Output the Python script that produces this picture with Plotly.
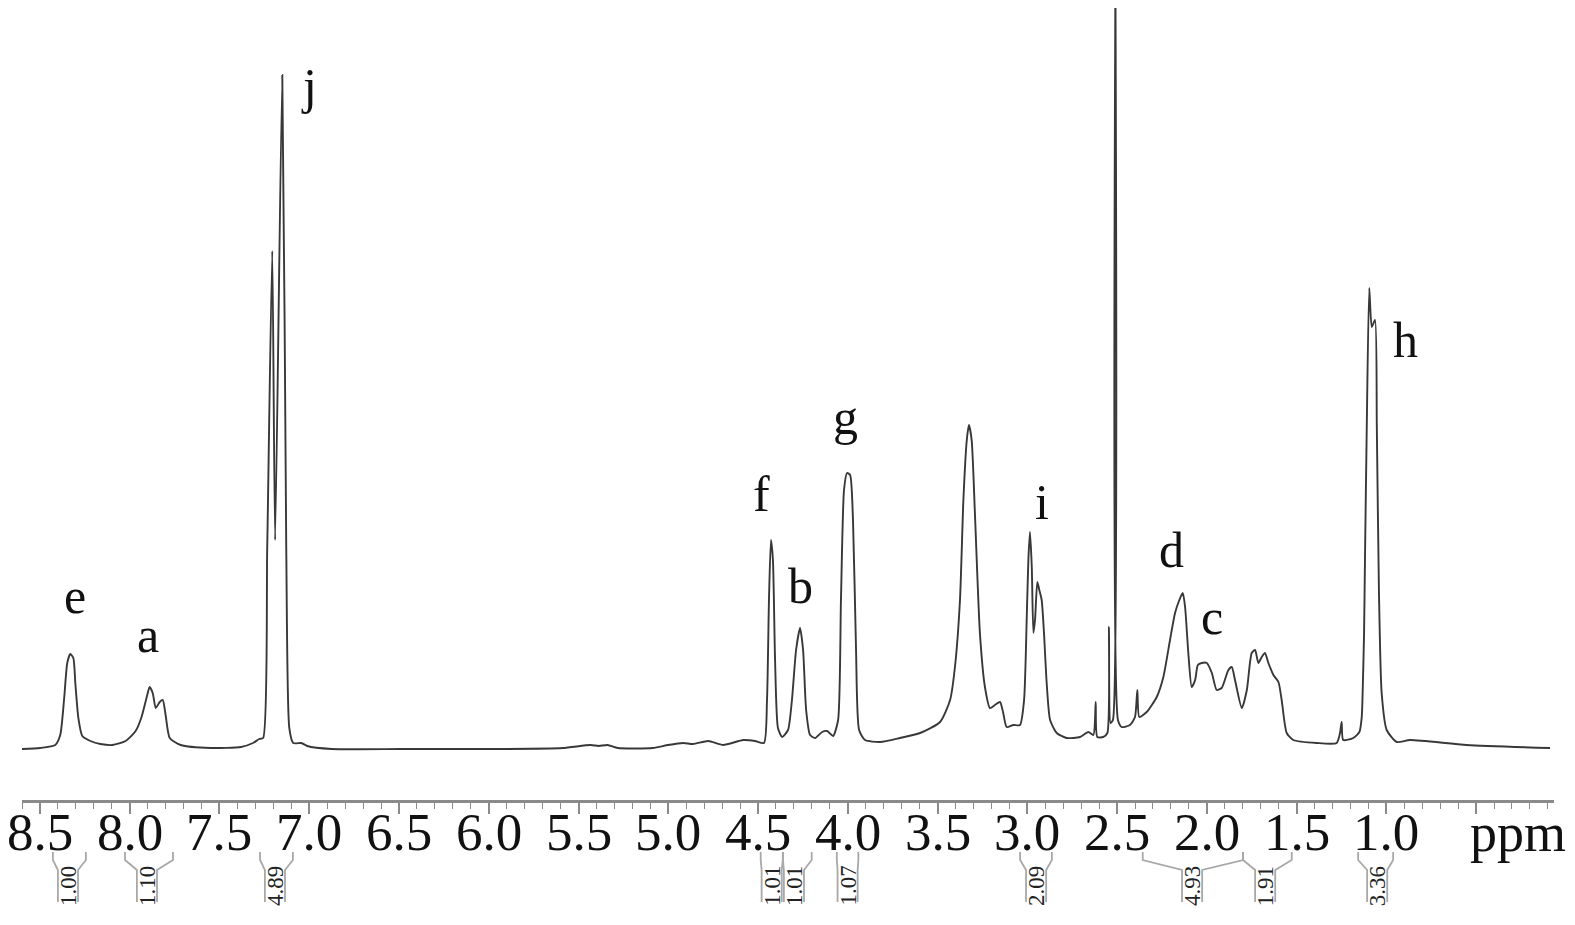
import plotly.graph_objects as go

# ---------------- data ----------------
ppm = [8.611, 8.499, 8.415, 8.387, 8.365, 8.348, 8.331, 8.314, 8.303, 8.286, 8.264, 8.219,
       8.163, 8.096, 8.023, 7.967, 7.934, 7.905, 7.889, 7.872, 7.855, 7.833, 7.816, 7.800,
       7.777, 7.716, 7.548, 7.380, 7.313, 7.279, 7.257, 7.234, 7.206, 7.190, 7.150, 7.128,
       7.111, 7.089, 7.044, 7.011, 6.876, 6.484, 6.205, 5.925, 5.589, 5.433, 5.388, 5.338,
       5.281, 5.086, 5.001, 4.917, 4.862, 4.777, 4.694, 4.582, 4.517, 4.467, 4.450, 4.439,
       4.428, 4.417, 4.405, 4.389, 4.366, 4.333, 4.311, 4.288, 4.266, 4.249, 4.232, 4.210,
       4.182, 4.143, 4.115, 4.082, 4.054, 4.038, 4.021, 4.004, 3.987, 3.971, 3.954, 3.937,
       3.904, 3.820, 3.709, 3.597, 3.486, 3.430, 3.403, 3.375, 3.356, 3.337, 3.325, 3.310,
       3.291, 3.264, 3.236, 3.208, 3.180, 3.152, 3.134, 3.115, 3.078, 3.041, 3.018, 3.003,
       2.994, 2.985, 2.975, 2.966, 2.957, 2.944, 2.933, 2.920, 2.907, 2.892, 2.873, 2.836,
       2.781, 2.706, 2.660, 2.632, 2.619, 2.610, 2.577, 2.554, 2.545, 2.536, 2.523, 2.509,
       2.495, 2.474, 2.428, 2.400, 2.387, 2.376, 2.335, 2.279, 2.242, 2.205, 2.177, 2.153,
       2.134, 2.121, 2.103, 2.084, 2.065, 2.050, 2.028, 2.000, 1.972, 1.945, 1.917, 1.880,
       1.861, 1.843, 1.805, 1.777, 1.750, 1.731, 1.713, 1.694, 1.676, 1.657, 1.629, 1.601,
       1.583, 1.555, 1.518, 1.388, 1.277, 1.258, 1.249, 1.240, 1.184, 1.150, 1.137, 1.132,
       1.124, 1.119, 1.109, 1.095, 1.081, 1.063, 1.053, 1.041, 1.026, 0.998, 0.942, 0.868,
       0.552, 0.088]

intensity = [-1, 0, 3, 13, 50, 85, 94, 90, 65, 30, 12, 7,
             4, 3, 7, 17, 31, 51, 61, 55, 40, 46, 48, 33,
             10, 3, 0, 1, 5, 9, 10, 200, 497, 208, 673, 200,
             20, 5, 5, 2, -1, -1, -1, -1, 0, 3, 2, 3,
             0, 0, 3, 5, 4, 7, 3, 8, 7, 5, 48, 148,
             208, 188, 88, 20, 11, 18, 48, 98, 120, 98, 38, 13,
             10, 16, 17, 12, 28, 148, 258, 275, 273, 228, 98, 18,
             8, 6, 10, 15, 26, 48, 81, 148, 248, 308, 323, 308,
             231, 115, 61, 40, 43, 46, 35, 21, 23, 23, 48, 131,
             188, 216, 181, 115, 128, 166, 158, 148, 115, 65, 28, 15,
             10, 11, 16, 13, 46, 11, 11, 15, 121, 25, 28, 800,
             28, 21, 23, 31, 58, 31, 36, 51, 71, 108, 135, 148,
             155, 141, 95, 61, 68, 83, 85, 85, 75, 58, 60, 78,
             81, 68, 40, 58, 95, 98, 85, 91, 95, 85, 73, 66,
             48, 15, 8, 5, 5, 15, 26, 8, 10, 16, 31, 55,
             115, 188, 321, 460, 421, 428, 321, 155, 55, 18, 6, 8,
             3, 0]

tick_vals = [8.5, 8.0, 7.5, 7.0, 6.5, 6.0, 5.5, 5.0, 4.5, 4.0, 3.5, 3.0, 2.5, 2.0, 1.5, 1.0, 0.5]
tick_text = ["8.5", "8.0", "7.5", "7.0", "6.5", "6.0", "5.5", "5.0", "4.5", "4.0",
             "3.5", "3.0", "2.5", "2.0", "1.5", "1.0", ""]
unit_label = "ppm"

peak_labels = ["e", "a", "j", "f", "b", "g", "i", "d", "c", "h"]
peak_label_ppm = [8.305, 7.898, 7.001, 4.478, 4.266, 4.010, 2.918, 2.194, 1.971, 0.895]
peak_label_base = [134, 95, 644, 236, 144, 313, 228, 180, 113, 390]

integral_values = ["1.00", "1.10", "4.89", "1.01", "1.01", "1.07", "2.09", "4.93", "1.91", "3.36"]
integral_from = [8.428, 8.026, 7.274, 4.485, 4.361, 4.061, 3.040, 2.357, 1.798, 1.157]
integral_to = [8.244, 7.759, 7.091, 4.362, 4.201, 3.941, 2.863, 1.798, 1.527, 0.962]
integral_mid = [8.344, 7.904, 7.191, 4.424, 4.300, 4.001, 2.951, 2.082, 1.675, 1.051]

# ---------------- figure ----------------
# the page body has an 8 px margin, so the figure is 8 px smaller than the window
OFF = 8
W, H = 1575 - OFF, 925 - OFF
ML, MR, MT, MB = 22 - OFF, 21, 0, 125
plot_h = H - MT - MB          # 792 px
AXIS_PAGE_Y = 800             # page row of the x axis line

AXIS_GREY = "#8a8a8a"
SERIF = "Liberation Serif, Times New Roman, serif"

fig = go.Figure()
fig.add_trace(go.Scatter(x=ppm, y=intensity, mode="lines",
                         line=dict(color="#383838", width=1.9, shape="spline", smoothing=0.6),
                         hoverinfo="skip", showlegend=False))


def py(page_y):
    """page row (px from top of window) -> paper fraction"""
    return (AXIS_PAGE_Y - page_y) / plot_h


annotations = []
# peak letters
for lab, xp, yb in zip(peak_labels, peak_label_ppm, peak_label_base):
    annotations.append(dict(x=xp, y=yb, xref="x", yref="y", text=lab, showarrow=False,
                            xanchor="center", yanchor="bottom", yshift=-12,
                            font=dict(family=SERIF, size=50, color="#111111")))

# axis numbers (drawn as annotations to sit close to the axis like the original)
for v, t in zip(tick_vals, tick_text):
    if t:
        annotations.append(dict(x=v, y=0, xref="x", yref="paper", text=t, showarrow=False,
                                xanchor="center", yanchor="top", yshift=-1,
                                font=dict(family=SERIF, size=53, color="#111111")))
annotations.append(dict(x=0.269, y=0, xref="x", yref="paper", text=unit_label, showarrow=False,
                        xanchor="center", yanchor="top", yshift=-1,
                        font=dict(family=SERIF, size=54, color="#111111")))

# integral brackets
shapes = []
half = 0.056  # ppm half-width of the bracket stem
for val, a, b, m in zip(integral_values, integral_from, integral_to, integral_mid):
    y0, y1, y2, y3 = py(852), py(860), py(870), py(902)
    path = (f"M {a},{y0} L {a},{y1} L {m + half},{y2} L {m + half},{y3} "
            f"M {b},{y0} L {b},{y1} L {m - half},{y2} L {m - half},{y3}")
    shapes.append(dict(type="path", xref="x", yref="paper", path=path,
                       line=dict(color="#a8a8a8", width=1.8)))
    annotations.append(dict(x=m, y=py(886), xref="x", yref="paper", text=val,
                            showarrow=False, textangle=-90,
                            xanchor="center", yanchor="middle",
                            font=dict(family=SERIF, size=23, color="#222222")))

fig.update_layout(
    width=W, height=H,
    margin=dict(l=ML, r=MR, t=MT, b=MB, pad=0, autoexpand=False),
    paper_bgcolor="white", plot_bgcolor="white",
    showlegend=False,
    xaxis=dict(range=[8.600, 0.066], showgrid=False, zeroline=False, automargin=False,
               showline=True, linecolor=AXIS_GREY, linewidth=2.5,
               ticks="outside", ticklen=11, tickwidth=1.6, tickcolor=AXIS_GREY,
               tickmode="array", tickvals=tick_vals, showticklabels=False,
               minor=dict(tick0=0, dtick=0.1, ticks="outside", ticklen=6,
                          tickwidth=1.3, tickcolor=AXIS_GREY, showgrid=False)),
    yaxis=dict(range=[-52, 740], visible=False, showgrid=False, zeroline=False,
               automargin=False),
    annotations=annotations,
    shapes=shapes,
)

fig.write_html("out.html")
